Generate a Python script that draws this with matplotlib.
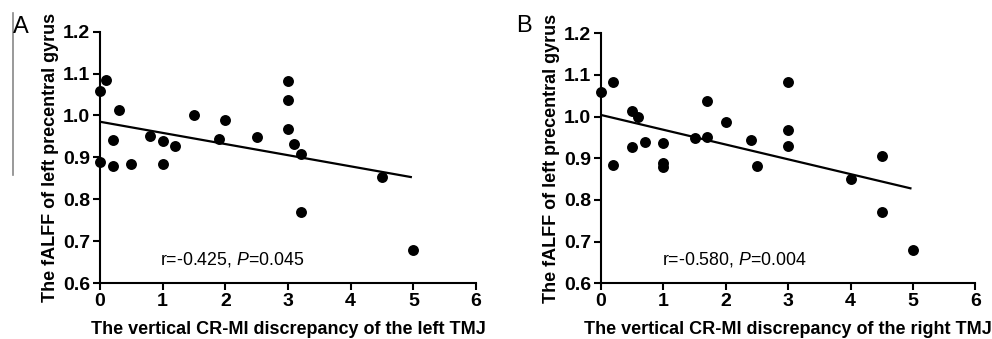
import matplotlib
matplotlib.use("Agg")
import matplotlib.pyplot as plt
import numpy as np

# Panel A data (left TMJ)
xa = [0, 0.1, 0, 0.2, 0.2, 0.3, 0.5, 0.8, 1.0, 1.0, 1.2, 1.5, 1.9, 2.0, 2.5,
      3.0, 3.0, 3.0, 3.1, 3.2, 3.2, 4.5, 5.0]
ya = [1.059, 1.084, 0.888, 0.941, 0.880, 1.014, 0.885, 0.951, 0.938, 0.883, 0.927,
      1.001, 0.945, 0.989, 0.948, 1.083, 1.038, 0.968, 0.931, 0.908, 0.770, 0.853, 0.678]
# regression line ends
line_a_x = [0, 4.96]
line_a_y = [0.985, 0.853]

# Panel B data (right TMJ)
xb = [0, 0.2, 0.2, 0.5, 0.6, 0.5, 0.7, 1.0, 1.0, 1.0, 1.5, 1.7, 1.7, 2.0, 2.4,
      2.5, 3.0, 3.0, 3.0, 4.0, 4.5, 4.5, 5.0]
yb = [1.058, 1.084, 0.884, 1.014, 1.000, 0.926, 0.940, 0.936, 0.888, 0.880, 0.948,
      1.038, 0.950, 0.988, 0.944, 0.882, 1.082, 0.968, 0.930, 0.850, 0.906, 0.770, 0.680]
line_b_x = [0, 4.96]
line_b_y = [1.004, 0.828]

xticks = [0, 1, 2, 3, 4, 5, 6]
yticks = [0.6, 0.7, 0.8, 0.9, 1.0, 1.1, 1.2]
ytick_labels = ["0.6", "0.7", "0.8", "0.9", "1.0", "1.1", "1.2"]

ylabel = "The fALFF of left precentral gyrus"
xlabel_a = "The vertical CR-MI discrepancy of the left TMJ"
xlabel_b = "The vertical CR-MI discrepancy of the right TMJ"
stats_a = "r=-0.425, $\\it{P}$=0.045"
stats_b = "r=-0.580, $\\it{P}$=0.004"

plt.rcParams['font.family'] = ['Liberation Sans', 'DejaVu Sans']
plt.rcParams['mathtext.fontset'] = 'custom'
plt.rcParams['mathtext.it'] = 'Liberation Sans:italic'
plt.rcParams['mathtext.rm'] = 'Liberation Sans'

W, H = 992, 339
fig = plt.figure(figsize=(W / 100, H / 100), dpi=100)

def make_ax(left_px, right_px, bottom_px, top_px):
    return fig.add_axes([left_px / W, 1 - bottom_px / H,
                         (right_px - left_px) / W, (bottom_px - top_px) / H])

def style(ax, x, y, lx, ly, xlabel, stats, stats_x):
    ax.scatter(x, y, s=62, color='black', clip_on=False, zorder=3, linewidths=0)
    ax.plot(lx, ly, color='black', lw=1.6, zorder=2)
    ax.set_xlim(0, 6)
    ax.set_ylim(0.6, 1.2)
    ax.set_xticks(xticks)
    ax.set_yticks(yticks)
    ax.set_yticklabels(ytick_labels)
    for s in ['top', 'right']:
        ax.spines[s].set_visible(False)
    for s in ['left', 'bottom']:
        ax.spines[s].set_linewidth(1.5)
    ax.tick_params(axis='both', direction='out', length=5, width=1.5, labelsize=14, pad=2)
    for lab in ax.get_xticklabels() + ax.get_yticklabels():
        lab.set_fontweight('bold')
    ax.set_xlabel(xlabel, fontsize=13, fontweight='bold', labelpad=8)
    ax.set_ylabel(ylabel, fontsize=13, fontweight='bold', labelpad=3)
    ax.text(stats_x, 0.644, stats, fontsize=12.8)

ax1 = make_ax(100, 476, 283, 31.7)
style(ax1, xa, ya, line_a_x, line_a_y, xlabel_a, stats_a, 0.96)
ax2 = make_ax(601, 975.3, 283.3, 33.3)
style(ax2, xb, yb, line_b_x, line_b_y, xlabel_b, stats_b, 0.98)

fig.text(12.5 / W, 1 - 33 / H, "A", fontsize=17, ha='left', va='baseline')
fig.text(516 / W, 1 - 32 / H, "B", fontsize=17, ha='left', va='baseline')
fig.add_artist(plt.Line2D([12.5 / W, 12.5 / W], [1 - 13 / H, 1 - 175 / H],
                          color='#888888', lw=1.2, transform=fig.transFigure))

fig.savefig("out.png", dpi=100, facecolor='white')
